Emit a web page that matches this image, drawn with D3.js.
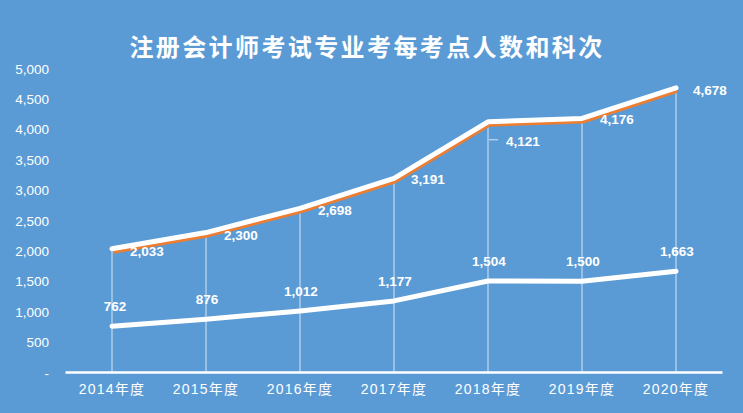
<!DOCTYPE html>
<html><head><meta charset="utf-8">
<script src="https://cdn.jsdelivr.net/npm/d3@7"></script>
<style>html,body{margin:0;padding:0;background:#5B9BD5;}svg{display:block;}</style>
</head><body>
<script>
const categories = ["2014年度","2015年度","2016年度","2017年度","2018年度","2019年度","2020年度"];
const perCandidate = [2033,2300,2698,3191,4121,4176,4678];
const perSubject = [762,876,1012,1177,1504,1500,1663];
const yTicks = [0,500,1000,1500,2000,2500,3000,3500,4000,4500,5000];
const title = "注册会计师考试专业考每考点人数和科次";

const W=743,H=413;
const svg=d3.select("body").append("svg").attr("width",W).attr("height",H);
svg.append("rect").attr("width",W).attr("height",H).attr("fill","#5B9BD5");

const x=d3.scaleBand().domain(categories).range([65,723]);
const y=d3.scaleLinear().domain([0,5000]).range([372.5,68.3]);
const cx=d=>x(d)+x.bandwidth()/2;

svg.append("text").attr("x",367).attr("y",56).attr("text-anchor","middle")
  .attr("font-family","'Noto Sans CJK SC'").attr("font-weight","bold").attr("font-size",24)
  .attr("letter-spacing",2.4).attr("fill","#fff").text(title);

// y axis labels
const yAxis=d3.axisLeft(y).tickValues(yTicks).tickSize(0).tickPadding(0)
  .tickFormat(d=>d===0?"-":d3.format(",")(d));
const ga=svg.append("g").attr("transform","translate(49,0)").call(yAxis);
ga.select(".domain").remove();
ga.selectAll("text").attr("fill","#fff").attr("font-family","'Liberation Sans'").attr("font-size",13.5).attr("dy","0.35em");

// x axis
const xAxis=d3.axisBottom(x).tickSize(0).tickPadding(12);
const gx=svg.append("g").attr("transform","translate(0,372.5)").call(xAxis);
gx.select(".domain").attr("stroke","#fff").attr("stroke-width",2.5).attr("d","M65.5,0H722.5");
gx.selectAll("text").attr("fill","#fff").attr("font-family","'Liberation Sans','Noto Sans CJK SC'").attr("font-size",14).attr("letter-spacing",1.2);

// drop lines
svg.append("g").selectAll("line").data(categories).join("line")
  .attr("x1",d=>cx(d)).attr("x2",d=>cx(d))
  .attr("y1",(d,i)=>y(perCandidate[i])).attr("y2",y(0))
  .attr("stroke","#fff").attr("stroke-opacity",0.75).attr("stroke-width",1);

const line=d3.line().x((d,i)=>cx(categories[i])).y(d=>y(d));
// orange shadow
svg.append("path").datum(perCandidate).attr("d",line).attr("fill","none")
  .attr("stroke","#ED7D31").attr("stroke-width",4).attr("transform","translate(1,3)");
svg.append("path").datum(perCandidate).attr("d",line).attr("fill","none")
  .attr("stroke","#fff").attr("stroke-width",5).attr("stroke-linecap","round").attr("stroke-linejoin","round");
svg.append("path").datum(perSubject).attr("d",line).attr("fill","none")
  .attr("stroke","#fff").attr("stroke-width",5).attr("stroke-linecap","round").attr("stroke-linejoin","round");

const lblFont=g=>g.attr("fill","#fff").attr("font-family","'Liberation Sans'").attr("font-weight","bold").attr("font-size",13.5);
// top labels offsets [dx, dy to baseline]
const topOff=[[18,7],[18,7],[18,7],[17,6],[18,24],[18,6],[17,7]];
svg.append("g").selectAll("text").data(perCandidate).join("text")
  .attr("x",(d,i)=>cx(categories[i])+topOff[i][0]).attr("y",(d,i)=>y(d)+topOff[i][1])
  .text(d=>d3.format(",")(d)).call(lblFont);
// leader line 2018
svg.append("path").attr("d",`M${cx(categories[4])+1},${y(perCandidate[4])+18}h9`)
  .attr("stroke","#fff").attr("stroke-opacity",0.75).attr("fill","none");
// bottom labels
svg.append("g").selectAll("text").data(perSubject).join("text")
  .attr("x",(d,i)=>cx(categories[i])+(i===0?3:1)).attr("y",d=>y(d)-15)
  .attr("text-anchor","middle").text(d=>d3.format(",")(d)).call(lblFont);
</script>
</body></html>
